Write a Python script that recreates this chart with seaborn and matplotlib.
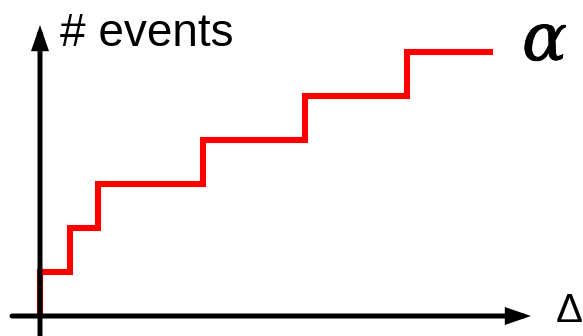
import matplotlib
matplotlib.use("Agg")
import matplotlib.pyplot as plt
import matplotlib.patheffects as pe
import seaborn as sns

# Data: event times (Delta) and cumulative event counts
event_times = [0.0, 0.0, 3.0, 5.8, 16.3, 26.5, 36.7, 45.3]
event_counts = [0, 1, 2, 3, 4, 5, 6, 6]

sns.set_theme(style="white")
plt.rcParams['font.family'] = ['Liberation Sans', 'DejaVu Sans']

W, H, DPI = 583, 336, 100
fig = plt.figure(figsize=(W / DPI, H / DPI), dpi=DPI)
ax = fig.add_axes([0, 0, 1, 1])
ax.set_xlim(-4.0, 54.3)
ax.set_ylim(-20 / 44, 316 / 44)
ax.axis('off')

# Axes arrows
arrow_kw = dict(arrowstyle='-|>,head_length=0.32,head_width=0.11', color='black',
                lw=3.6, mutation_scale=36, shrinkA=0, shrinkB=0,
                joinstyle='miter')
ax.annotate('', xy=(49.1, 0), xytext=(-2.8, 0), arrowprops=arrow_kw)
ax.annotate('', xy=(0, (316 - 25) / 44), xytext=(0, -20 / 44), arrowprops=arrow_kw)

sns.lineplot(x=event_times, y=event_counts, ax=ax, estimator=None, sort=False,
             drawstyle='steps-post', color='#ff0000', lw=4.4,
             solid_joinstyle='miter', solid_capstyle='butt')

fig.text(60 / W, 1 - 46 / H, '# events', fontsize=33, color='black',
         ha='left', va='baseline')
fig.text(522 / W, 1 - 60 / H, 'α', fontsize=48, color='black',
         family='DejaVu Serif', style='italic', weight='normal',
         ha='left', va='baseline',
         path_effects=[pe.withStroke(linewidth=0.6, foreground='black')])
fig.text(556 / W, 1 - 322 / H, 'Δ', fontsize=29, color='black',
         ha='left', va='baseline')

fig.savefig('out.png', dpi=DPI)
